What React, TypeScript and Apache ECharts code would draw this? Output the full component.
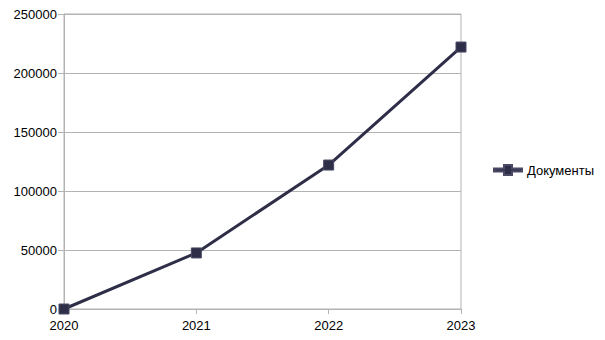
import React, { useEffect, useRef } from "react";
import * as echarts from "echarts";

const categories = ["2020", "2021", "2022", "2023"];
const docs = [0, 47500, 122000, 222000];
const seriesName = "Документы";

export default function App() {
  const ref = useRef<HTMLDivElement>(null);
  useEffect(() => {
    const chart = echarts.init(ref.current!, null, { renderer: "svg" });
    const font = "'Liberation Sans', Arial, sans-serif";
    chart.setOption({
      animation: false,
      backgroundColor: "#ffffff",
      textStyle: { fontFamily: font },
      grid: {
        left: 64, right: 144, top: 14, bottom: 31, containLabel: false,
        show: true, borderColor: "#b3b3b3", borderWidth: 1, backgroundColor: "transparent",
      },
      legend: {
        orient: "vertical",
        right: 6,
        top: "middle",
        itemWidth: 28,
        itemHeight: 10,
        itemGap: 5,
        textStyle: { fontFamily: font, fontSize: 13, color: "#000" },
        data: [seriesName],
        icon: "path://M0,3.6 L10,3.6 L10,0 L18,0 L18,3.6 L28,3.6 L28,6.4 L18,6.4 L18,10 L10,10 L10,6.4 L0,6.4 Z",
      },
      xAxis: {
        type: "category",
        data: categories,
        boundaryGap: false,
        axisLine: { lineStyle: { color: "#b3b3b3", width: 1 } },
        axisTick: { show: true, inside: false, length: 5, lineStyle: { color: "#b3b3b3" } },
        axisLabel: { color: "#000", fontSize: 13, fontFamily: font, margin: 10 },
        splitLine: { show: false },
      },
      yAxis: {
        type: "value",
        min: 0,
        max: 250000,
        interval: 50000,
        axisLine: { show: true, lineStyle: { color: "#b3b3b3" } },
        axisTick: { show: true, length: 6, lineStyle: { color: "#b3b3b3" } },
        axisLabel: { color: "#000", fontSize: 13, fontFamily: font, margin: 7, formatter: (v: number) => String(v) },
        splitLine: { show: true, lineStyle: { color: "#b3b3b3" } },
      },
      series: [
        {
          name: seriesName,
          type: "line",
          data: docs,
          symbol: "rect",
          symbolSize: 10,
          lineStyle: { color: "#2e2e48", width: 3 },
          itemStyle: { color: "#2e2e48", borderColor: "#4a4a66", borderWidth: 1 },
        },
      ],
    });
    return () => chart.dispose();
  }, []);
  return <div ref={ref} style={{ width: 605, height: 340, position: "absolute", left: 0, top: 0 }} />;
}
